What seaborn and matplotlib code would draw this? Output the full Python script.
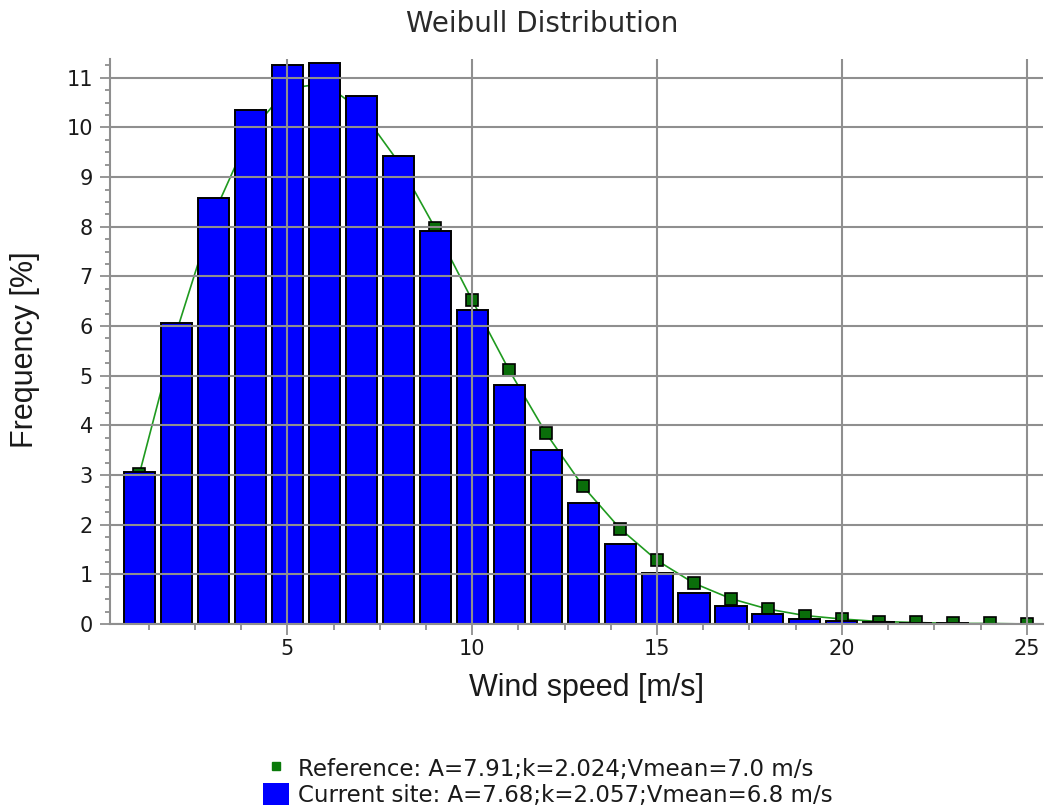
import matplotlib
matplotlib.use("Agg")
import matplotlib.pyplot as plt
from matplotlib.lines import Line2D
from matplotlib.patches import Patch
from matplotlib.ticker import MultipleLocator
import pandas as pd
import seaborn as sns

# Wind speed bins [m/s]
wind_speed = list(range(1, 26))

# Frequency per bin [%] for the current site (bars)
site_freq = [3.06, 6.07, 8.58, 10.35, 11.25, 11.30, 10.63, 9.43, 7.92, 6.33,
             4.82, 3.51, 2.44, 1.62, 1.03, 0.63, 0.37, 0.21, 0.11, 0.06,
             0.03, 0.01, 0.01, 0.0, 0.0]

# Frequency per bin [%] for the reference distribution (line + markers)
ref_freq = [3.03, 5.88, 8.24, 9.90, 10.78, 10.89, 10.34, 9.31, 7.97, 6.52,
            5.11, 3.84, 2.77, 1.92, 1.28, 0.82, 0.51, 0.30, 0.17, 0.10,
            0.05, 0.03, 0.01, 0.01, 0.0]

ref_label = "Reference: A=7.91;k=2.024;Vmean=7.0 m/s"
site_label = "Current site: A=7.68;k=2.057;Vmean=6.8 m/s"
title_text = "Weibull Distribution"
x_label = "Wind speed [m/s]"
y_label = "Frequency [%]"

BAR_BLUE = "#0000ff"
REF_GREEN = "#0a6e0a"
LINE_GREEN = "#1f9a1f"
GRID_GRAY = "#8f8f8f"
TEXT = "#1a1a1a"

sns.set_style("white")
plt.rcParams["font.family"] = ["DejaVu Sans"]

df = pd.DataFrame({"speed": wind_speed, "site": site_freq, "ref": ref_freq})

fig = plt.figure(figsize=(10.49, 8.11), dpi=100)
ax = fig.add_axes([0.1044, 0.2306, 0.8899, 0.6967])

# Reference curve sits behind the bars
sns.lineplot(data=df, x="speed", y="ref", ax=ax, color=LINE_GREEN, linewidth=1.2,
             marker="s", markersize=8, markerfacecolor=REF_GREEN,
             markeredgecolor="black", markeredgewidth=1.2, zorder=0.5)

sns.barplot(data=df, x="speed", y="site", ax=ax, native_scale=True, width=0.84,
            color=BAR_BLUE, saturation=1, edgecolor="black", linewidth=1.4,
            zorder=1)

ax.set_xlim(0.19, 25.44)
ax.set_ylim(0, 11.38)

ax.xaxis.set_major_locator(MultipleLocator(5))
ax.xaxis.set_minor_locator(MultipleLocator(1.25))
ax.yaxis.set_major_locator(MultipleLocator(1))
ax.yaxis.set_minor_locator(MultipleLocator(0.25))

# Grid drawn over the bars
ax.set_axisbelow(False)
ax.grid(True, which="major", color=GRID_GRAY, linewidth=1.5)

for side in ("top", "right"):
    ax.spines[side].set_visible(False)
for side in ("left", "bottom"):
    ax.spines[side].set_color(GRID_GRAY)
    ax.spines[side].set_linewidth(1.5)

ax.tick_params(axis="both", which="both", direction="out", color=GRID_GRAY,
               width=1.3, labelsize=15, labelcolor=TEXT)
ax.tick_params(axis="y", which="major", length=7, pad=5, left=True)
ax.tick_params(axis="y", which="minor", length=3.6, left=True)
ax.tick_params(axis="x", which="major", length=8, pad=3, bottom=True)
ax.tick_params(axis="x", which="minor", length=4.3, bottom=True)

ax.set_xlabel(x_label, fontsize=22, family=["Liberation Sans", "DejaVu Sans"], color=TEXT)
ax.set_ylabel(y_label, fontsize=22, family=["Liberation Sans", "DejaVu Sans"], color=TEXT)
ax.xaxis.set_label_coords(0.5105, -0.1133)
ax.xaxis.label.set_va("center")
ax.yaxis.set_label_coords(-0.0905, 0.485)
ax.yaxis.label.set_va("center")

fig.text(0.517, 0.970, title_text, ha="center", va="center", fontsize=20, color="#2a2a2a")

handles = [
    Line2D([], [], linestyle="none", marker="s", markersize=6,
           markerfacecolor="#0a7a0a", markeredgecolor="#0a7a0a"),
    Patch(facecolor=BAR_BLUE, edgecolor="none"),
]
fig.legend(handles, [ref_label, site_label], loc="center",
           bbox_to_anchor=(0.5224, 0.0358), frameon=False, fontsize=16.5,
           handlelength=1.15, handleheight=1.1, handletextpad=0.4,
           labelspacing=0.12, borderpad=0, borderaxespad=0,
           labelcolor=TEXT)

fig.savefig("out.png", dpi=100)
